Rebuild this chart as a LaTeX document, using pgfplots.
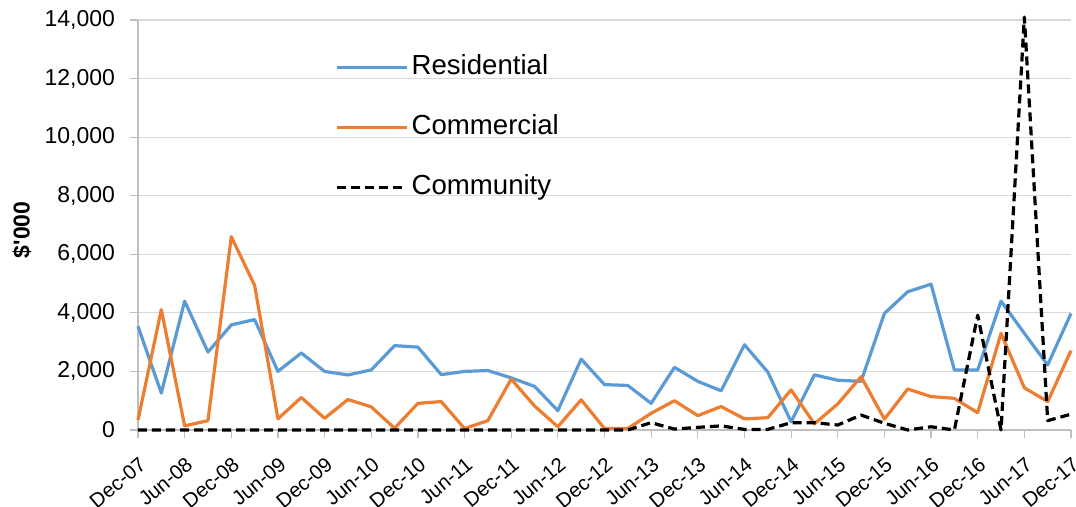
\documentclass[border=0pt]{standalone}
\usepackage{fontspec}
\setmainfont{Liberation Sans}
\usepackage{pgfplots}
\pgfplotsset{compat=1.18}
\definecolor{resblue}{HTML}{5B9BD5}
\definecolor{comorange}{HTML}{ED7D31}
\definecolor{gridgray}{HTML}{D9D9D9}
\definecolor{axisgray}{HTML}{BFBFBF}
\begin{document}
\begin{tikzpicture}
\begin{axis}[
  at={(0,0)}, anchor=south west,
  scale only axis,
  width=466.5pt, height=205pt,
  xmin=0, xmax=40, ymin=0, ymax=14000,
  clip=false,
  axis lines*=left,
  axis line style={axisgray, line width=0.7pt},
  ymajorgrids,
  grid style={gridgray, line width=0.6pt},
  ytick={0,2000,...,14000},
  xtick={0,2,...,40},
  xticklabels={Dec-07,Jun-08,Dec-08,Jun-09,Dec-09,Jun-10,Dec-10,Jun-11,Dec-11,Jun-12,Dec-12,Jun-13,Dec-13,Jun-14,Dec-14,Jun-15,Dec-15,Jun-16,Dec-16,Jun-17,Dec-17},
  tick align=outside,
  major tick length=4pt,
  tick style={axisgray, line width=0.6pt},
  scaled y ticks=false,
  /pgf/number format/.cd, 1000 sep={,}, fixed, assume math mode=true,
  /pgfplots/.cd,
  yticklabel style={anchor=east, xshift=-4pt, font=\fontsize{11.5}{13}\selectfont},
  xticklabel style={rotate=40, anchor=east, inner sep=0pt, xshift=-5.5pt, yshift=-10.5pt, font=\fontsize{10.2}{12}\selectfont},
  ylabel={\textbf{\$\textquotesingle000}},
  ylabel style={at={(axis description cs:-0.1243,0.488)}, anchor=center, font=\fontsize{11.5}{13}\selectfont},
  legend style={at={(axis description cs:0.211,0.9188)}, anchor=north west, draw=none, fill=none,
    inner sep=0pt, row sep=16.5pt, column sep=1.6pt,
    nodes={inner sep=0pt, text height=10.5pt, text depth=3pt},
    font=\fontsize{13.8}{16}\selectfont},
  legend cell align=left,
  legend image code/.code={\draw[#1] (0pt,0pt) -- (35pt,0pt);},
  every axis plot/.append style={line width=1.6pt, line join=round},
]
\addplot[resblue] coordinates {
(0,3540) (1,1260) (2,4400) (3,2660) (4,3590) (5,3770) (6,2000) (7,2630) (8,2000) (9,1880)
(10,2050) (11,2880) (12,2830) (13,1890) (14,2000) (15,2030) (16,1780) (17,1490) (18,660) (19,2420)
(20,1550) (21,1520) (22,910) (23,2140) (24,1660) (25,1340) (26,2910) (27,1980) (28,280) (29,1880)
(30,1700) (31,1660) (32,3980) (33,4720) (34,4980) (35,2050) (36,2050) (37,4400) (38,3300) (39,2220)
(40,3980)};
\addlegendentry{Residential}
\addplot[comorange] coordinates {
(0,340) (1,4110) (2,140) (3,320) (4,6600) (5,4940) (6,380) (7,1110) (8,400) (9,1040)
(10,790) (11,60) (12,910) (13,970) (14,50) (15,320) (16,1740) (17,820) (18,110) (19,1030)
(20,50) (21,50) (22,570) (23,1000) (24,490) (25,800) (26,380) (27,420) (28,1370) (29,210)
(30,890) (31,1820) (32,370) (33,1400) (34,1140) (35,1080) (36,590) (37,3300) (38,1440) (39,970)
(40,2710)};
\addlegendentry{Commercial}
\addplot[black, dash pattern=on 4.5pt off 2.5pt] coordinates {
(0,0) (1,0) (2,0) (3,0) (4,0) (5,0) (6,0) (7,0) (8,0) (9,0)
(10,0) (11,0) (12,0) (13,0) (14,0) (15,0) (16,0) (17,0) (18,0) (19,0)
(20,0) (21,0) (22,250) (23,30) (24,90) (25,140) (26,20) (27,20) (28,250) (29,250)
(30,170) (31,510) (32,230) (33,0) (34,110) (35,0) (36,3920) (37,0) (38,14100) (39,320)
(40,540)};
\addlegendentry{Community}
\end{axis}
\pgfresetboundingbox
\path (-69pt,-38.5pt) rectangle (469pt,215pt);
\end{tikzpicture}
\end{document}
